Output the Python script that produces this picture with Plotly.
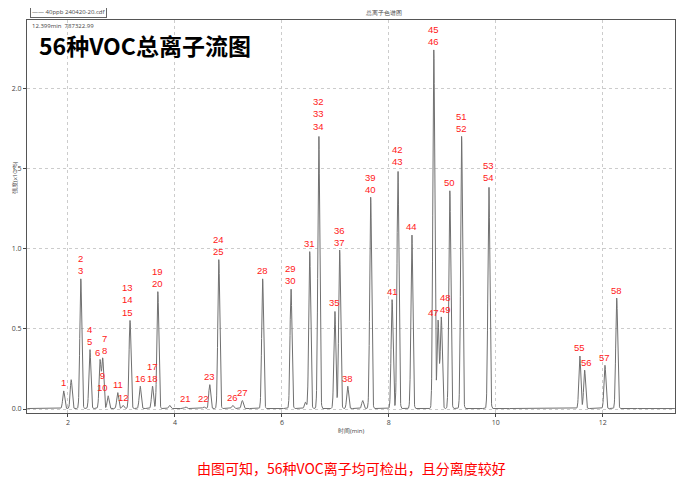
import numpy as np
import plotly.graph_objects as go

# peak retention times (min), heights (x1e6 counts), labels
rt = [1.92, 2.06, 2.24, 2.41, 2.60, 2.65, 2.75, 2.93, 3.03, 3.16, 3.35, 3.58, 3.68, 3.90, 4.20, 4.54, 4.65,
      4.82, 5.08, 5.26, 5.64, 6.17, 6.44, 6.52, 6.69, 6.99, 7.08, 7.23, 7.51, 7.66, 8.06, 8.17, 8.43,
      8.84, 8.92, 8.98, 9.14, 9.36, 9.87, 11.57, 11.66, 12.04, 12.26]
ht = [0.11, 0.18, 0.81, 0.37, 0.30, 0.31, 0.08, 0.10, 0.02, 0.55, 0.14, 0.14, 0.73, 0.02, 0.01, 0.01, 0.15,
      0.93, 0.02, 0.05, 0.81, 0.75, 0.04, 0.98, 1.71, 0.61, 0.99, 0.14, 0.05, 1.32, 0.68, 1.49, 1.09,
      2.24, 0.55, 0.57, 1.36, 1.70, 1.39, 0.33, 0.24, 0.27, 0.69]
labels = ["1", "", "2<br>3", "4<br>5", "6", "7<br>8", "9<br>10", "11", "12", "13<br>14<br>15", "16", "17<br>18",
          "19<br>20", "", "21", "22", "23", "24<br>25", "26", "27", "28", "29<br>30", "", "31", "32<br>33<br>34",
          "35", "36<br>37", "38", "", "39<br>40", "41", "42<br>43", "44", "45<br>46", "47", "48<br>49", "50",
          "51<br>52", "53<br>54", "55", "56", "57", "58"]
lab_dx = [0, 0, 0, 0, -0.04, 0.04, -0.1, 0, 0, -0.05, 0, 0, 0, 0, 0, 0, 0, 0, 0, 0, 0, 0, 0, 0, 0,
          0, 0, 0, 0, 0, 0, 0, 0, 0, -0.09, 0.08, 0, 0, 0, 0, 0.03, 0, 0]

x = np.arange(1.24, 13.35, 0.004)
sig = 0.018
y = np.zeros_like(x)
for r, h in zip(rt, ht):
    y += h * np.exp(-0.5 * ((x - r) / sig) ** 2)
y += 0.003

fig = go.Figure()
fig.add_trace(go.Scatter(x=x, y=y, mode="lines", line=dict(color="#707070", width=1), showlegend=False))

for r, h, t, dx in zip(rt, ht, labels, lab_dx):
    if t:
        fig.add_annotation(x=r + dx, y=h, text=t, showarrow=False, yanchor="bottom", yshift=1,
                           font=dict(color="#ff2020", size=9.5, family="Liberation Sans"))

fig.add_annotation(xref="paper", yref="paper", x=0.015, y=0.985, text="<b>56种VOC总离子流图</b>", showarrow=False,
                   xanchor="left", yanchor="top", font=dict(size=23, color="black", family="Noto Sans CJK SC"))
fig.add_annotation(xref="paper", yref="paper", x=0.005, y=1.0, text="12.399min  787322.99", showarrow=False,
                   xanchor="left", yanchor="top", font=dict(size=6, color="#444"))
fig.add_annotation(xref="paper", yref="paper", x=0.005, y=1.005, text="—— 40ppb 240420-20.cdf", showarrow=False,
                   xanchor="left", yanchor="bottom", bordercolor="#666", borderwidth=1, borderpad=1,
                   font=dict(size=6, color="#444"))
fig.add_annotation(xref="paper", yref="paper", x=0.55, y=1.0, text="总离子色谱图", showarrow=False,
                   yanchor="bottom", yshift=1, font=dict(size=6, color="#444"))
fig.add_annotation(xref="paper", yref="paper", x=0.5, y=-0.03, text="时间(min)", showarrow=False,
                   yanchor="top", font=dict(size=6, color="#444"))
fig.add_annotation(xref="paper", yref="paper", x=-0.028, y=0.6, text="强度(x10^6)", showarrow=False,
                   textangle=-90, font=dict(size=6, color="#444"))
fig.add_annotation(xref="paper", yref="paper", x=0.5, y=-0.17, text="由图可知，56种VOC离子均可检出，且分离度较好",
                   showarrow=False, font=dict(size=14, color="#ff0000", family="Noto Sans CJK SC"))

fig.update_xaxes(range=[1.234, 13.35], tickvals=[2, 4, 6, 8, 10, 12], ticks="outside", ticklen=3,
                 showgrid=True, gridcolor="#cccccc", griddash="dot", showline=True, linecolor="#555",
                 mirror=True, zeroline=False, tickfont=dict(size=7, color="#444"), automargin=False)
fig.update_yaxes(range=[-0.025, 2.43], tickvals=[0, 0.5, 1.0, 1.5, 2.0], tickformat=".1f", ticks="outside", ticklen=3,
                 showgrid=True, gridcolor="#cccccc", griddash="dot", showline=True, linecolor="#555",
                 mirror=True, zeroline=False, tickfont=dict(size=7, color="#444"), automargin=False)
fig.update_layout(width=668, height=474, margin=dict(l=19, r=1, t=12, b=69),
                  plot_bgcolor="white", paper_bgcolor="white")
fig.write_html("out.html")
